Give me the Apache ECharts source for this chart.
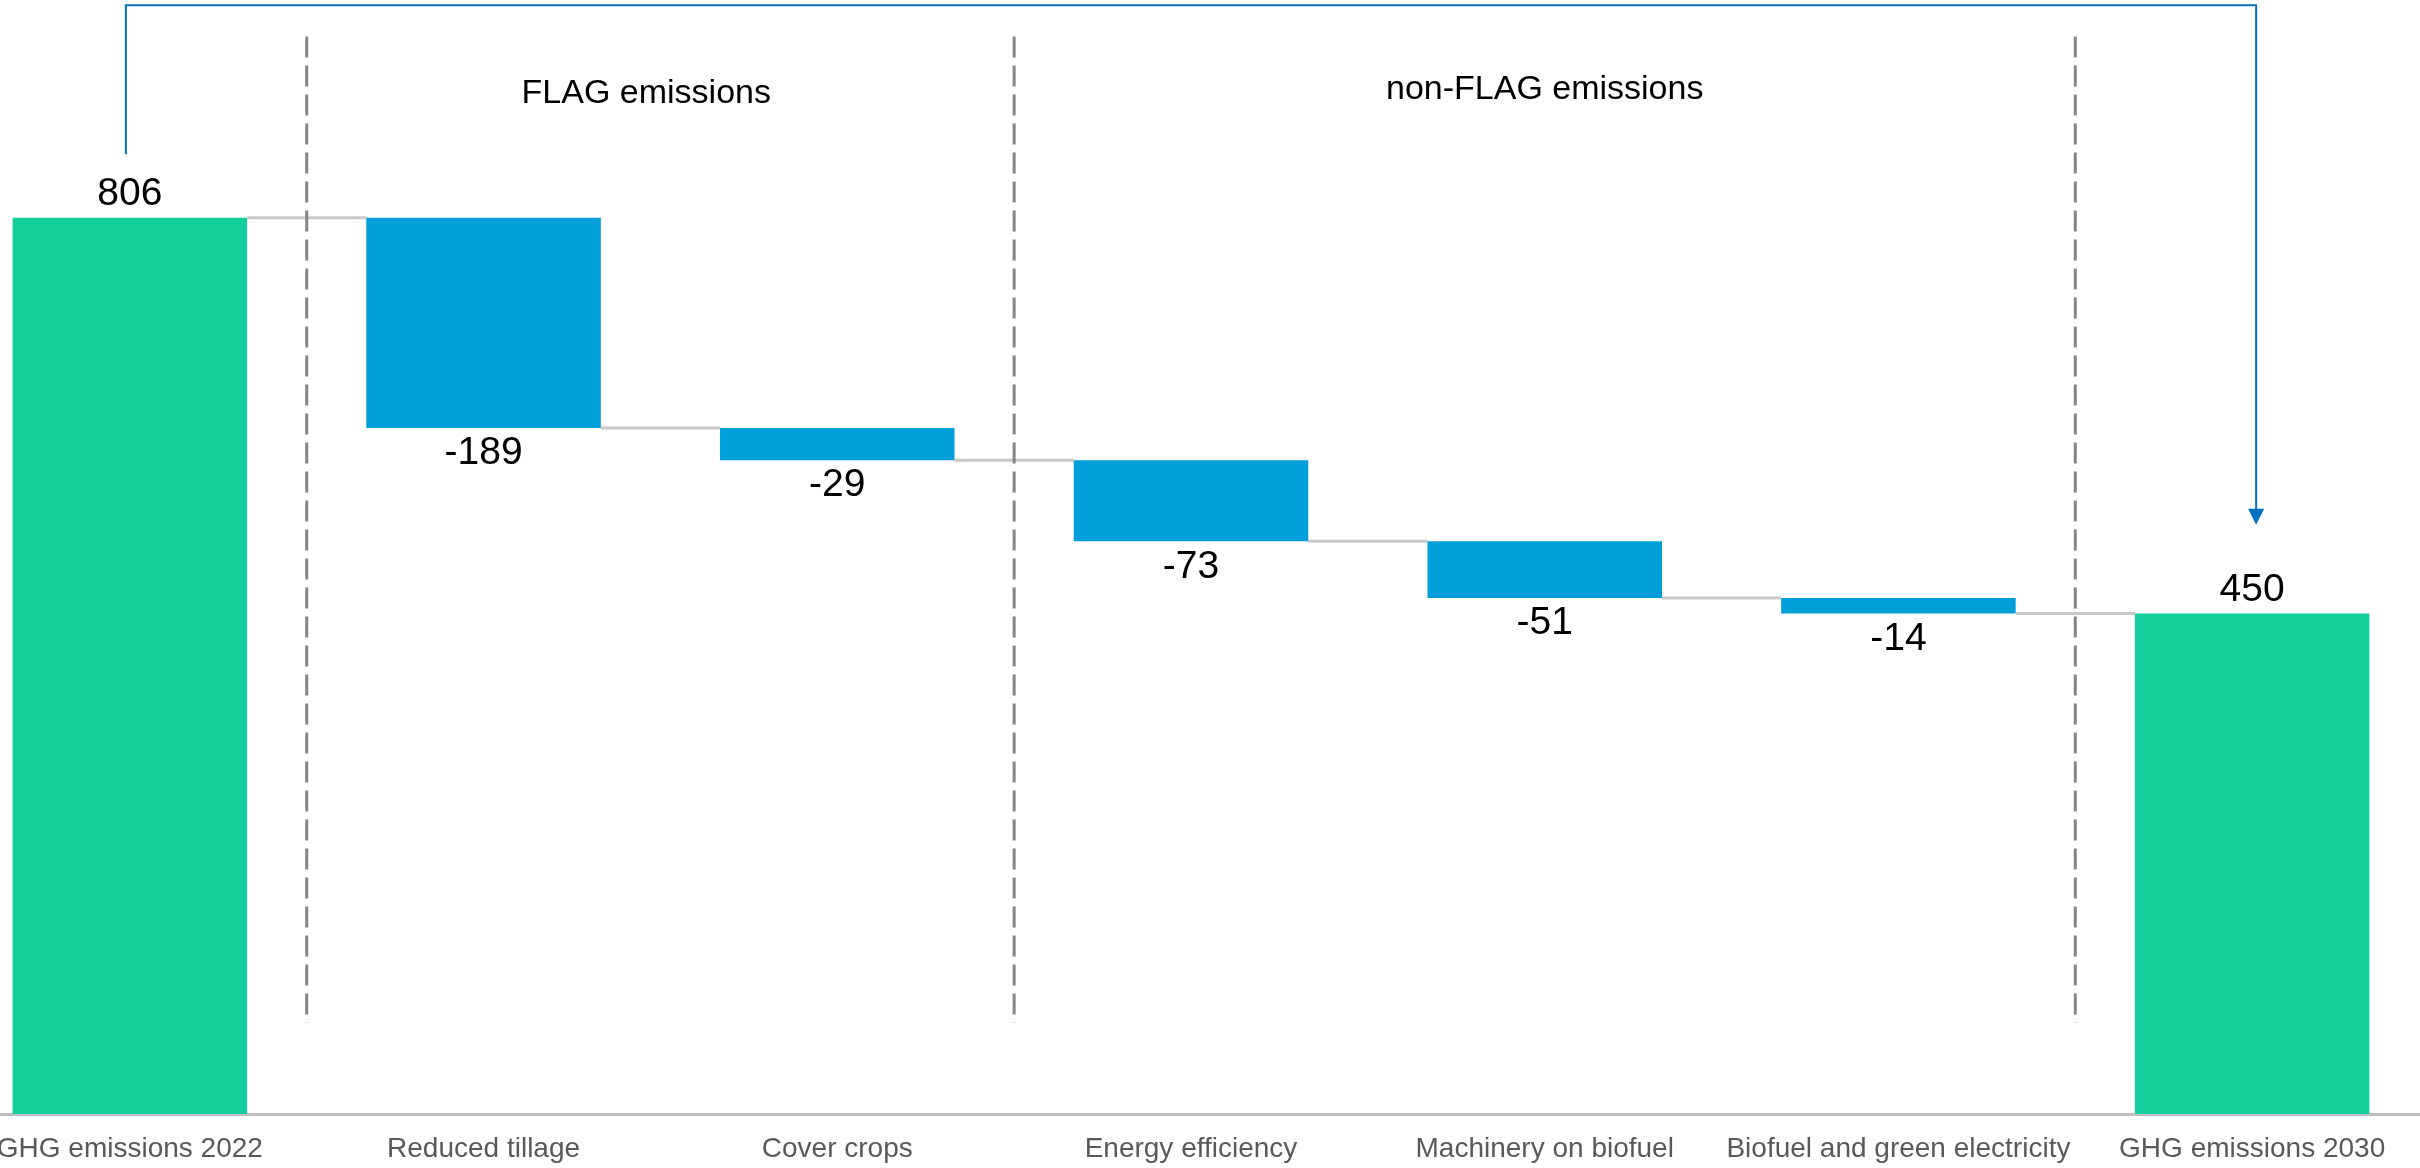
<!DOCTYPE html>
<html>
<head>
<meta charset="utf-8">
<script src="https://cdn.jsdelivr.net/npm/echarts@6/dist/echarts.min.js"></script>
<style>
  html, body { margin: 0; padding: 0; background: #fff; }
  #chart { width: 2420px; height: 1168px; }
</style>
</head>
<body>
<div id="chart"></div>
<script>
// categories and values
var categories = ['GHG emissions 2022', 'Reduced tillage', 'Cover crops', 'Energy efficiency',
                  'Machinery on biofuel', 'Biofuel and green electricity', 'GHG emissions 2030'];
var startTotal = 806;
var changes = [-189, -29, -73, -51, -14];
var endTotal = 450;

// section titles and dashed dividers (divider sits after the given category index)
var sectionTitles = ['FLAG emissions', 'non-FLAG emissions'];
var dividerAfter = [0, 2, 5];

var green = '#12cf9b';
var blue = '#009fd9';
var regular = "'Liberation Sans', Arial, sans-serif";

// build the waterfall stacks
var baseData = [0], totalData = [startTotal], changeData = ['-'], levels = [startTotal];
var running = startTotal;
for (var i = 0; i < changes.length; i++) {
    running += changes[i];
    baseData.push(running);
    totalData.push('-');
    changeData.push(-changes[i]);
    levels.push(running);
}
baseData.push(0);
totalData.push(endTotal);
changeData.push('-');

var connectorData = levels.map(function (v, idx) { return [idx, v]; });
var barRatio = 0.663;

var chart = echarts.init(document.getElementById('chart'));
var option = {
    animation: false,
    grid: { left: -47, right: -9, top: 2, bottom: 54, outerBoundsMode: 'none', containLabel: false },
    xAxis: {
        type: 'category',
        data: categories,
        axisTick: { show: false },
        axisLine: { lineStyle: { color: '#bfbfbf', width: 3 } },
        axisLabel: {
            interval: 0,
            margin: 21,
            color: '#595959',
            fontSize: 28,
            fontFamily: regular
        }
    },
    yAxis: {
        type: 'value',
        min: 0,
        max: 1000,
        show: false,
        splitLine: { show: false }
    },
    series: [
        {
            name: 'base',
            type: 'bar',
            stack: 'w',
            barWidth: (barRatio * 100) + '%',
            itemStyle: { color: 'transparent' },
            data: baseData,
            silent: true
        },
        {
            name: 'total',
            type: 'bar',
            stack: 'w',
            itemStyle: { color: green },
            label: {
                show: true,
                position: 'top',
                distance: 4,
                color: '#000',
                fontSize: 39,
                fontFamily: regular
            },
            data: totalData
        },
        {
            name: 'change',
            type: 'bar',
            stack: 'w',
            itemStyle: { color: blue },
            label: {
                show: true,
                position: 'bottom',
                distance: 6,
                color: '#000',
                fontSize: 39,
                fontFamily: regular,
                formatter: function (p) { return '-' + p.value; }
            },
            data: changeData
        },
        {
            // grey connectors between bars
            name: 'connectors',
            type: 'custom',
            silent: true,
            clip: false,
            z: 1,
            data: connectorData,
            renderItem: function (params, api) {
                var p = api.coord([api.value(0), api.value(1)]);
                var band = api.size([1, 0])[0];
                var half = band * barRatio / 2;
                return {
                    type: 'line',
                    shape: { x1: p[0] + half, y1: p[1], x2: p[0] + band - half, y2: p[1] },
                    style: { stroke: '#c8c8c8', lineWidth: 3 }
                };
            }
        },
        {
            // dashed section dividers
            name: 'dividers',
            type: 'custom',
            silent: true,
            clip: false,
            data: dividerAfter.map(function (d) { return [d, 82, 969]; }),
            renderItem: function (params, api) {
                var band = api.size([1, 0])[0];
                var a = api.coord([api.value(0), api.value(1)]);
                var b = api.coord([api.value(0), api.value(2)]);
                var x = a[0] + band / 2;
                return {
                    type: 'line',
                    shape: { x1: x, y1: b[1], x2: x, y2: a[1] },
                    style: { stroke: '#858585', lineWidth: 3, lineDash: [21, 8] }
                };
            }
        },
        {
            // section titles
            name: 'sections',
            type: 'custom',
            silent: true,
            clip: false,
            data: [[1.46, 918], [4, 921]],
            renderItem: function (params, api) {
                var band = api.size([1, 0])[0];
                var xv = api.value(0);
                var p = api.coord([Math.floor(xv), api.value(1)]);
                var x = p[0] + (xv - Math.floor(xv)) * band;
                return {
                    type: 'text',
                    x: x,
                    y: p[1],
                    style: {
                        text: sectionTitles[params.dataIndex],
                        fill: '#000',
                        fontSize: 34,
                        fontFamily: regular,
                        align: 'center',
                        verticalAlign: 'middle'
                    }
                };
            }
        },
        {
            // arrow from 2022 total to 2030 total
            name: 'arrow',
            type: 'custom',
            silent: true,
            clip: false,
            data: [[0, 863, 997, 530]],
            renderItem: function (params, api) {
                var a = api.coord([0, api.value(1)]);
                var top = api.coord([0, api.value(2)]);
                var b = api.coord([categories.length - 1, api.value(3)]);
                return {
                    type: 'group',
                    children: [
                        {
                            type: 'polyline',
                            shape: { points: [[a[0] - 4, a[1]], [a[0] - 4, top[1]], [b[0] + 4, top[1]], [b[0] + 4, b[1] - 14]] },
                            style: { stroke: '#0070c0', lineWidth: 2, fill: null }
                        },
                        {
                            type: 'polygon',
                            shape: { points: [[b[0] - 4, b[1] - 16], [b[0] + 12, b[1] - 16], [b[0] + 4, b[1]]] },
                            style: { fill: '#0070c0' }
                        }
                    ]
                };
            }
        }
    ]
};
chart.setOption(option);

window.onresize = function () {
    chart.resize();
};
</script>
</body>
</html>
